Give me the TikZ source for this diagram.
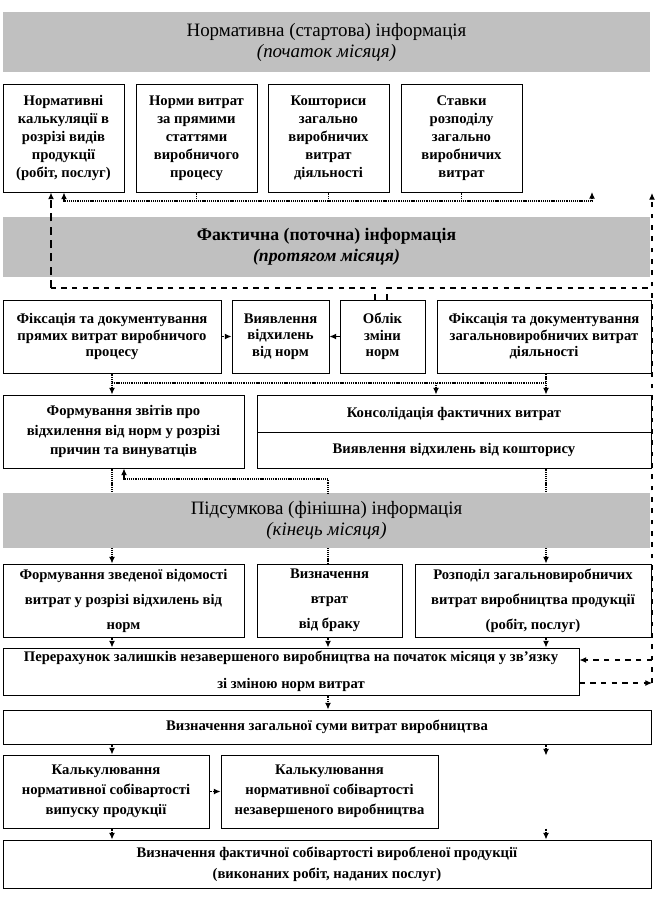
\documentclass[tikz,border=0pt]{standalone}
\usepackage{fontspec}
\setmainfont{Liberation Serif}
\usetikzlibrary{arrows.meta}
\definecolor{bandgray}{RGB}{192,192,192}

\begin{document}
\begin{tikzpicture}[x=0.75pt,y=-0.75pt,
  box/.style={draw,line width=0.75pt,fill=white,align=center,inner sep=1pt,
    font=\bfseries\fontsize{11}{13.5}\selectfont},
  band/.style={fill=bandgray,align=center,inner sep=0pt,font=\fontsize{14.2}{15.75}\selectfont},
  sz/.style 2 args={minimum width=#1*0.75pt,minimum height=#2*0.75pt},
  lsp/.style={font=\bfseries\fontsize{11}{#1}\selectfont},
  link/.style={line width=0.9pt,dash pattern=on 0.8pt off 0.6pt},
  tip/.tip={Latex[length=5pt,width=4.5pt]},
  arr/.style={link,-tip},
  fb/.style={line width=0.9pt,dash pattern=on 4pt off 4pt},
]
\useasboundingbox (0,0) rectangle (657,900);

% normative information
\node[band,sz={647}{60}] (norm) at (326.5,42) {Нормативна (стартова) інформація\\\textit{(початок місяця)}};
\node[box,sz={121}{108}] (nk) at (63.5,138) {Нормативні\\калькуляції в\\розрізі видів\\продукції\\(робіт, послуг)};
\node[box,sz={121}{108}] (nv) at (196.5,138) {Норми витрат\\за прямими\\статтями\\виробничого\\процесу};
\node[box,sz={121}{108}] (ks) at (328.5,138) {Кошториси\\загально\\виробничих\\витрат\\діяльності};
\node[box,sz={121}{108}] (sr) at (461.5,138) {Ставки\\розподілу\\загально\\виробничих\\витрат};

% actual information
\node[band,sz={647}{60},font=\bfseries\fontsize{13.3}{15.75}\selectfont] (fact) at (326.5,247) {Фактична (поточна) інформація\\\textit{(протягом місяця)}};
\node[box,sz={218}{73},lsp=12.5] (fp) at (112,336.5) {Фіксація та документування\\прямих витрат виробничого\\процесу};
\node[box,sz={97}{73},lsp=12.5] (vv) at (280.5,336.5) {Виявлення\\відхилень\\від норм};
\node[box,sz={85}{73},lsp=12.5] (oz) at (382.5,336.5) {Облік\\зміни\\норм};
\node[box,sz={214}{73},lsp=12.5] (fz) at (544,336.5) {Фіксація та документування\\загальновиробничих витрат\\діяльності};
\node[box,sz={241}{73},lsp=14.3] (zv) at (123.5,431.5) {Формування звітів про\\відхилення від норм у розрізі\\причин та винуватців};
\node[box,sz={394}{37}] (kf1) at (454,413.5) {Консолідація фактичних витрат};
\node[box,sz={394}{36}] (kf2) at (454,450) {Виявлення відхилень від кошторису};

% final information
\node[band,sz={647}{55}] (fin) at (326.5,520.5) {Підсумкова (фінішна) інформація\\\textit{(кінець місяця)}};
\node[box,sz={241}{73},lsp=18.75] (zd) at (123.5,600.5) {Формування зведеної відомості\\витрат у розрізі відхилень від\\норм};
\node[box,sz={145}{73},lsp=18.75] (vb) at (329.5,600.5) {Визначення\\втрат\\від браку};
\node[box,sz={236}{73},lsp=18.75] (rz) at (533,600.5) {Розподіл загальновиробничих\\витрат виробництва продукції\\(робіт, послуг)};
\node[box,sz={576}{47},lsp=20] (pr) at (291,671.5) {Перерахунок залишків незавершеного виробництва на початок місяця у зв'язку\\зі зміною норм витрат};
\node[box,sz={648}{34}] (zs) at (327,727) {Визначення загальної суми витрат виробництва};
\node[box,sz={206}{73},lsp=15] (kv) at (106,791.5) {Калькулювання\\нормативної собівартості\\випуску продукції};
\node[box,sz={217}{73},lsp=15] (kn) at (329.5,791.5) {Калькулювання\\нормативної собівартості\\незавершеного виробництва};
\node[box,sz={648}{48},lsp=15.75] (fs) at (327,864) {Визначення фактичної собівартості виробленої продукції\\(виконаних робіт, наданих послуг)};

% columns of the connectors
\coordinate (colL) at (112,0);
\coordinate (colM) at (328,0);
\coordinate (colR) at (546,0);

% back to the norms
\coordinate (t1) at (64,201);
\coordinate (t2) at (592,201);
\foreach \n in {nv,ks,sr}
  \draw[link] (\n.south) -- (\n.south |- t1);
\draw[link,tip-tip] (t1 |- nk.south) -- (t1) -- (t2) -- ++(0,-9);

% change of norms
\coordinate (c1) at (51,288);
\coordinate (c2) at (652,288);
\coordinate (c3) at (652,683);
\coordinate (c4) at (652,193);
\coordinate (c5) at (652,660);
\draw[fb] ([xshift=-5.6pt]oz.north) |- (c1);
\draw[fb,dash pattern=on 6pt off 4pt,line width=1pt,-tip] (c1) -- (c1 |- nk.south);
\draw[fb] ([xshift=3.4pt]oz.north) |- (c2);
\draw[fb,dash pattern=on 3.5pt off 5pt,-tip] (c3) -- (c4);
\draw[fb,-tip] (c5) -- (c5 -| pr.east);
\draw[fb,-tip] (c3 -| pr.east) -- (c3);

% actual costs
\draw[arr] (fp.east) -- (vv.west);
\draw[arr] (oz.west) -- (vv.east);
\coordinate (a1) at (112,383);
\coordinate (a2) at (546,383);
\coordinate (a3) at (436,383);
\draw[link] (fp.south -| a1) -- (a1) -- (a2) -- (a2 |- fz.south);
\draw[arr] (a1) -- (a1 |- zv.north);
\draw[arr] (a3) -- (a3 |- kf1.north);
\draw[arr] (a2) -- (a2 |- kf1.north);

% to the final information
\coordinate (b1) at (124,479);
\coordinate (b2) at (328,479);
\draw[link] (colL |- zv.south) -- (colL |- fin.north);
\draw[link,tip-] (b1 |- zv.south) -- (b1) -- (b2) -- (b2 |- fin.north);
\draw[link] (colR |- kf2.south) -- (colR |- fin.north);

% from the final information
\draw[arr] (colL |- fin.south) -- (colL |- zd.north);
\draw[link] (colM |- fin.south) -- (colM |- vb.north);
\draw[arr] (colR |- fin.south) -- (colR |- rz.north);
\foreach \n/\c in {zd/colL,vb/colM,rz/colR}
  \draw[arr] (\c |- \n.south) -- (\c |- pr.north);
\draw[arr] (colM |- pr.south) -- (colM |- zs.north);
\draw[arr] (colL |- zs.south) -- (colL |- kv.north);
\draw[arr] (colR |- zs.south) -- ++(0,11);
\draw[arr] (kv.east) -- (kn.west);
\draw[arr] (colL |- kv.south) -- (colL |- fs.north);
\draw[arr] (colR |- kv.south) -- (colR |- fs.north);
\end{tikzpicture}
\end{document}
